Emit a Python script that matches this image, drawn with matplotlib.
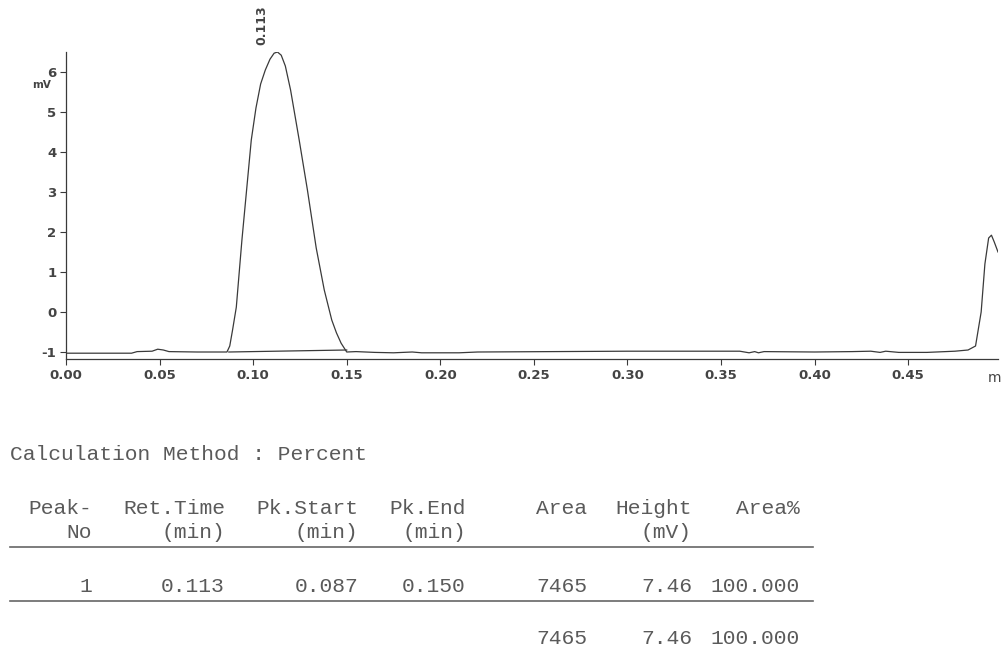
"""Chromatogram trace with peak table, redrawn from a report printout."""

import matplotlib
matplotlib.use("Agg")
import matplotlib.pyplot as plt

plt.rcParams["axes.unicode_minus"] = False

# ---- Trace data (min, mV) ----
time_min = [
    0.000, 0.035, 0.038, 0.046, 0.049, 0.052, 0.055, 0.070, 0.086,
    0.0875, 0.089, 0.091, 0.094, 0.097, 0.099, 0.1015, 0.104, 0.1065,
    0.109, 0.1112, 0.113, 0.115, 0.1172, 0.120, 0.1246, 0.129, 0.1337,
    0.138, 0.142, 0.1445, 0.147, 0.150,
    0.155, 0.165, 0.175, 0.185, 0.190, 0.210, 0.220, 0.300, 0.360,
    0.365, 0.368, 0.370, 0.373, 0.400, 0.420, 0.430, 0.435, 0.438,
    0.445, 0.460, 0.475, 0.482, 0.486, 0.489, 0.491, 0.493, 0.4945,
    0.496, 0.498,
]
signal_mv = [
    -1.03, -1.03, -0.99, -0.98, -0.93, -0.95, -0.99, -1.00, -1.00,
    -0.85, -0.45, 0.12, 1.80, 3.30, 4.30, 5.10, 5.70, 6.05,
    6.32, 6.47, 6.50, 6.42, 6.15, 5.55, 4.30, 3.05, 1.60,
    0.55, -0.20, -0.52, -0.78, -1.00,
    -0.99, -1.01, -1.02, -1.00, -1.02, -1.02, -1.00, -0.98, -0.98,
    -1.02, -0.99, -1.02, -0.99, -1.00, -0.99, -0.98, -1.01, -0.98,
    -1.01, -1.01, -0.98, -0.95, -0.85, 0.00, 1.20, 1.85, 1.92,
    1.75, 1.50,
]

# integration baseline under the peak
peak_base_t = [0.087, 0.150]
peak_base_y = [-1.00, -0.95]
peak_label = "0.113"
peak_apex = (0.113, 6.5)

x_ticks = [0.00, 0.05, 0.10, 0.15, 0.20, 0.25, 0.30, 0.35, 0.40, 0.45]
y_ticks = [-1, 0, 1, 2, 3, 4, 5, 6]

# ---- Peak table ----
calc_method = "Calculation Method : Percent"
header_top = ["Peak-", "Ret.Time", "Pk.Start", "Pk.End", "Area", "Height", "Area%"]
header_bot = ["No", "(min)", "(min)", "(min)", "", "(mV)", ""]
row_values = ["1", "0.113", "0.087", "0.150", "7465", "7.46", "100.000"]
total_values = ["", "", "", "", "7465", "7.46", "100.000"]
col_right_px = [92, 225, 358, 466, 587, 692, 800]

W, H = 1004, 653
TRACE = "#3a3a3a"
TEXT = "#5a5a5a"

fig = plt.figure(figsize=(W / 100, H / 100), dpi=100)
fig.patch.set_facecolor("white")

ax = fig.add_axes([66 / W, 1 - 359 / H, (998 - 66) / W, (359 - 52) / H])
ax.plot(time_min, signal_mv, color=TRACE, linewidth=0.9)
ax.plot(peak_base_t, peak_base_y, color=TRACE, linewidth=0.9)

ax.set_xlim(0, 0.498)
ax.set_ylim(-1.175, 6.5)
ax.set_xticks(x_ticks)
ax.set_xticklabels([f"{t:.2f}" for t in x_ticks])
ax.set_yticks(y_ticks)
for side in ("top", "right"):
    ax.spines[side].set_visible(False)
for side in ("left", "bottom"):
    ax.spines[side].set_color(TRACE)
    ax.spines[side].set_linewidth(0.9)
ax.tick_params(axis="both", length=4, width=0.8, color=TRACE,
               labelsize=9.5, labelcolor="#444444", pad=3)
for lbl in ax.get_xticklabels() + ax.get_yticklabels():
    lbl.set_fontweight("semibold")

ax.annotate(peak_label, peak_apex, textcoords="offset points", xytext=(-11, 5),
            rotation=90, fontsize=9, fontweight="semibold", color="#444444",
            ha="center", va="bottom")

fig.text(32 / W, 1 - 85 / H, "mV", fontsize=7.5, fontweight="semibold",
         color="#444444", va="center")
fig.text(988 / W, 1 - 378 / H, "m", fontsize=10, color="#444444", va="center")

mono = dict(family="Liberation Mono", fontsize=15.3, color=TEXT, va="center")

fig.text(10 / W, 1 - 455 / H, calc_method, ha="left", **mono)
for rows, y_px in ((header_top, 508), (header_bot, 533), (row_values, 587),
                   (total_values, 639)):
    for txt, x_px in zip(rows, col_right_px):
        if txt:
            fig.text(x_px / W, 1 - y_px / H, txt, ha="right", **mono)

for y_px in (547, 601):
    fig.add_artist(plt.Line2D([10 / W, 813 / W], [1 - y_px / H, 1 - y_px / H],
                              color="#666666", linewidth=1.2))

fig.savefig("out.png", dpi=100, facecolor=fig.get_facecolor())
plt.close(fig)
